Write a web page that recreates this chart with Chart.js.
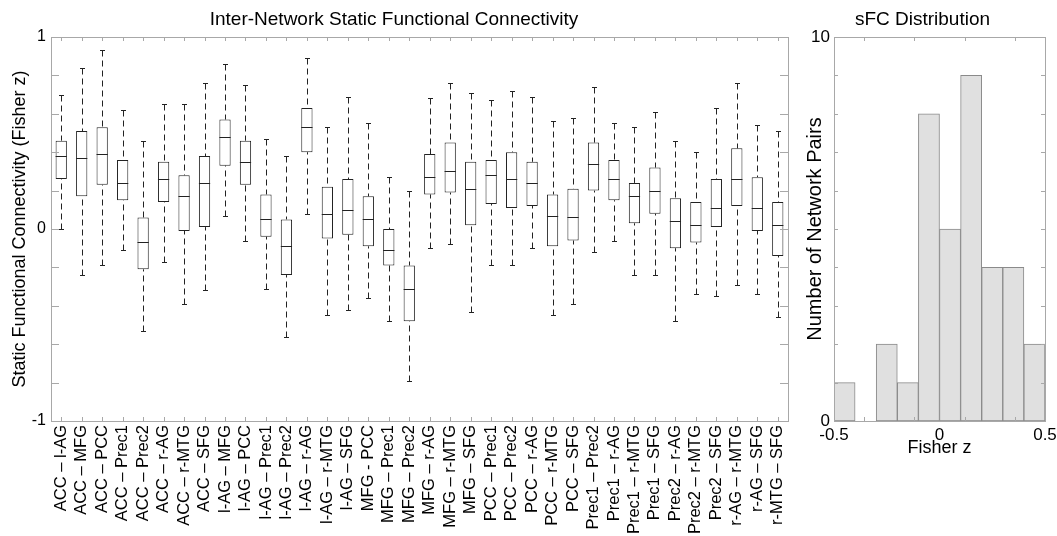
<!DOCTYPE html>
<html>
<head>
<meta charset="utf-8">
<title>Inter-Network Static Functional Connectivity</title>
<script src="https://cdn.jsdelivr.net/npm/chart.js@4.4.0/dist/chart.umd.min.js"></script>
<style>
    html, body { margin: 0; padding: 0; background: #fff; overflow: hidden; }
    body { width: 1057px; height: 536px; position: relative; }
    .painel { position: absolute; top: 0; height: 536px; }
    #painelBoxplot { left: 0; width: 812px; }
    #painelHist { left: 800px; width: 270px; }
</style>
</head>
<body>
<div class="painel" id="painelBoxplot"><canvas id="boxplot"></canvas></div>
<div class="painel" id="painelHist"><canvas id="histograma"></canvas></div>

<script>
// Pares de redes (eixo x do boxplot)
const pairs = [
    'ACC – l-AG', 'ACC – MFG', 'ACC – PCC', 'ACC – Prec1', 'ACC – Prec2', 'ACC – r-AG',
    'ACC – r-MTG', 'ACC – SFG', 'l-AG – MFG', 'l-AG – PCC', 'l-AG – Prec1', 'l-AG – Prec2',
    'l-AG – r-AG', 'l-AG – r-MTG', 'l-AG – SFG', 'MFG - PCC', 'MFG – Prec1', 'MFG – Prec2',
    'MFG – r-AG', 'MFG – r-MTG', 'MFG – SFG', 'PCC – Prec1', 'PCC – Prec2', 'PCC – r-AG',
    'PCC – r-MTG', 'PCC – SFG', 'Prec1 – Prec2', 'Prec1 – r-AG', 'Prec1 – r-MTG', 'Prec1 – SFG',
    'Prec2 – r-AG', 'Prec2 – r-MTG', 'Prec2 – SFG', 'r-AG – r-MTG', 'r-AG – SFG', 'r-MTG – SFG'
];

// Estatísticas das caixas (Fisher z)
const whiskerHigh = [0.70, 0.84, 0.93, 0.62, 0.46, 0.65, 0.65, 0.76, 0.86, 0.75, 0.47, 0.38,
    0.89, 0.53, 0.69, 0.55, 0.27, 0.20, 0.68, 0.76, 0.71, 0.67, 0.72, 0.69,
    0.56, 0.58, 0.74, 0.55, 0.53, 0.61, 0.46, 0.40, 0.63, 0.76, 0.54, 0.51];
const q3 = [0.46, 0.51, 0.53, 0.36, 0.06, 0.35, 0.28, 0.38, 0.57, 0.46, 0.18, 0.05,
    0.63, 0.22, 0.26, 0.17, 0.00, -0.19, 0.39, 0.45, 0.35, 0.36, 0.40, 0.35,
    0.18, 0.21, 0.45, 0.36, 0.24, 0.32, 0.16, 0.14, 0.26, 0.42, 0.27, 0.14];
const median = [0.38, 0.37, 0.39, 0.24, -0.07, 0.26, 0.17, 0.24, 0.48, 0.35, 0.05, -0.09,
    0.53, 0.08, 0.10, 0.05, -0.11, -0.31, 0.27, 0.30, 0.21, 0.28, 0.26, 0.24,
    0.07, 0.06, 0.34, 0.26, 0.17, 0.20, 0.04, 0.02, 0.11, 0.26, 0.11, 0.02];
const q1 = [0.26, 0.17, 0.23, 0.15, -0.21, 0.14, -0.01, 0.01, 0.33, 0.23, -0.04, -0.24,
    0.40, -0.05, -0.03, -0.09, -0.19, -0.48, 0.18, 0.19, 0.02, 0.13, 0.11, 0.12,
    -0.09, -0.06, 0.20, 0.15, 0.03, 0.08, -0.10, -0.07, 0.01, 0.12, -0.01, -0.14];
const whiskerLow = [0.00, -0.24, -0.19, -0.11, -0.53, -0.17, -0.39, -0.32, 0.07, -0.06, -0.31, -0.56,
    0.08, -0.45, -0.42, -0.36, -0.48, -0.79, -0.10, -0.08, -0.43, -0.19, -0.19, -0.10,
    -0.45, -0.39, -0.12, -0.06, -0.24, -0.24, -0.48, -0.34, -0.35, -0.29, -0.34, -0.46];

// Histograma (sFC Distribution)
const binCenters = [-0.45, -0.35, -0.25, -0.15, -0.05, 0.05, 0.15, 0.25, 0.35, 0.45];
const pairCounts = [1, 0, 2, 1, 8, 5, 9, 4, 4, 2];
const histMinorTicks = [-0.36, -0.12, 0.12, 0.36];

Chart.defaults.font.family = "'Liberation Sans', Arial, Helvetica, sans-serif";
Chart.defaults.font.size = 16;
Chart.defaults.color = '#000';

// Moldura cinza com marcas de escala para dentro
const frameTicks = {
    id: 'frameTicks',
    afterDatasetsDraw(chart, args, opts) {
        const { ctx, chartArea: a, scales: { x, y } } = chart;
        const xVals = opts.xTicks || x.ticks.map(t => t.value);
        ctx.save();
        ctx.strokeStyle = '#a8a8a8';
        ctx.lineWidth = 1;
        ctx.beginPath();
        xVals.forEach(v => {
            const px = Math.round(x.getPixelForValue(v)) + 0.5;
            ctx.moveTo(px, a.top); ctx.lineTo(px, a.top + opts.xLen);
            ctx.moveTo(px, a.bottom); ctx.lineTo(px, a.bottom - opts.xLen);
        });
        y.ticks.forEach(t => {
            const py = Math.round(y.getPixelForValue(t.value)) + 0.5;
            ctx.moveTo(a.left, py); ctx.lineTo(a.left + opts.yLen, py);
            ctx.moveTo(a.right, py); ctx.lineTo(a.right - opts.yLen, py);
        });
        ctx.stroke();
        ctx.strokeRect(Math.round(a.left) + 0.5, Math.round(a.top) + 0.5,
            Math.round(a.width), Math.round(a.height));
        ctx.restore();
    }
};

// Bigodes tracejados e medianas
const boxWhiskers = {
    id: 'boxWhiskers',
    afterDatasetsDraw(chart) {
        const { ctx, scales: { y } } = chart;
        const bars = chart.getDatasetMeta(0).data;
        ctx.save();
        ctx.strokeStyle = '#222';
        ctx.lineWidth = 1;
        bars.forEach((bar, i) => {
            const cx = Math.round(bar.x) + 0.5;
            const half = bar.width / 2;
            const yHigh = Math.round(y.getPixelForValue(whiskerHigh[i])) + 0.5;
            const yLow = Math.round(y.getPixelForValue(whiskerLow[i])) + 0.5;
            const yMed = Math.round(y.getPixelForValue(median[i])) + 0.5;

            ctx.setLineDash([6, 4]);
            ctx.beginPath();
            ctx.moveTo(cx, yHigh);
            ctx.lineTo(cx, y.getPixelForValue(q3[i]));
            ctx.moveTo(cx, yLow);
            ctx.lineTo(cx, y.getPixelForValue(q1[i]));
            ctx.stroke();

            ctx.setLineDash([]);
            ctx.beginPath();
            ctx.moveTo(cx - 2.5, yHigh); ctx.lineTo(cx + 2.5, yHigh);
            ctx.moveTo(cx - 2.5, yLow); ctx.lineTo(cx + 2.5, yLow);
            ctx.moveTo(bar.x - half, yMed); ctx.lineTo(bar.x + half, yMed);
            ctx.stroke();
        });
        ctx.restore();
    }
};

// Gráfico Boxplot
new Chart(document.getElementById('boxplot'), {
    type: 'bar',
    data: {
        labels: pairs,
        datasets: [{
            data: q1.map((v, i) => [v, q3[i]]),
            backgroundColor: '#fff',
            borderColor: '#222',
            borderWidth: 1,
            borderSkipped: false,
            barPercentage: 0.55,
            categoryPercentage: 1
        }]
    },
    options: {
        responsive: true,
        maintainAspectRatio: false,
        animation: false,
        layout: { padding: { left: 0, right: 24, top: 0, bottom: 0 } },
        plugins: {
            legend: { display: false },
            tooltip: { enabled: false },
            title: {
                display: true,
                text: 'Inter-Network Static Functional Connectivity',
                font: { size: 19, weight: 'normal' },
                padding: { top: 8, bottom: 6.2 }
            },
            frameTicks: { xLen: 4, yLen: 8 }
        },
        scales: {
            x: {
                grid: { display: false, drawTicks: false },
                border: { display: false },
                ticks: { autoSkip: false, minRotation: 90, maxRotation: 90, padding: 4, font: { size: 16.5 } },
                afterFit(scale) { scale.height = 115; }
            },
            y: {
                min: -1,
                max: 1,
                grid: { display: false, drawTicks: false },
                border: { display: false },
                ticks: {
                    stepSize: 0.2,
                    autoSkip: false,
                    padding: 5,
                    callback: v => (v === -1 || v === 0 || v === 1) ? String(v) : ''
                },
                title: {
                    display: true,
                    text: 'Static Functional Connectivity (Fisher z)',
                    font: { size: 18 },
                    padding: { top: 9, bottom: 0 }
                },
                afterFit(scale) { scale.width = 51; }
            }
        }
    },
    plugins: [boxWhiskers, frameTicks]
});

// Gráfico Histograma
new Chart(document.getElementById('histograma'), {
    type: 'bar',
    data: {
        datasets: [{
            data: binCenters.map((c, i) => ({ x: c, y: pairCounts[i] })),
            backgroundColor: '#e0e0e0',
            borderColor: '#8a8a8a',
            borderWidth: 1,
            borderSkipped: false,
            barPercentage: 1,
            categoryPercentage: 1
        }]
    },
    options: {
        responsive: true,
        maintainAspectRatio: false,
        animation: false,
        layout: { padding: { left: 0, right: 25, top: 0, bottom: 0 } },
        plugins: {
            legend: { display: false },
            tooltip: { enabled: false },
            title: {
                display: true,
                text: 'sFC Distribution',
                font: { size: 19, weight: 'normal' },
                padding: { top: 8, bottom: 6.2 }
            },
            frameTicks: { xTicks: histMinorTicks, xLen: 4, yLen: 4 }
        },
        scales: {
            x: {
                type: 'linear',
                min: -0.5,
                max: 0.5,
                offset: false,
                grid: { display: false, drawTicks: false },
                border: { display: false },
                ticks: { stepSize: 0.5, padding: 4, font: { size: 17 } },
                title: {
                    display: true,
                    text: 'Fisher z',
                    font: { size: 18 },
                    padding: { top: 0, bottom: 77 }
                },
                afterFit(scale) { scale.height = 115; }
            },
            y: {
                min: 0,
                max: 10,
                grid: { display: false, drawTicks: false },
                border: { display: false },
                ticks: {
                    stepSize: 1,
                    autoSkip: false,
                    padding: 4,
                    font: { size: 17 },
                    callback: v => (v === 0 || v === 10) ? String(v) : ''
                },
                title: {
                    display: true,
                    text: 'Number of Network Pairs',
                    font: { size: 20 },
                    padding: { top: 3, bottom: 0 }
                },
                afterFit(scale) { scale.width = 34; }
            }
        }
    },
    plugins: [frameTicks]
});
</script>
</body>
</html>
